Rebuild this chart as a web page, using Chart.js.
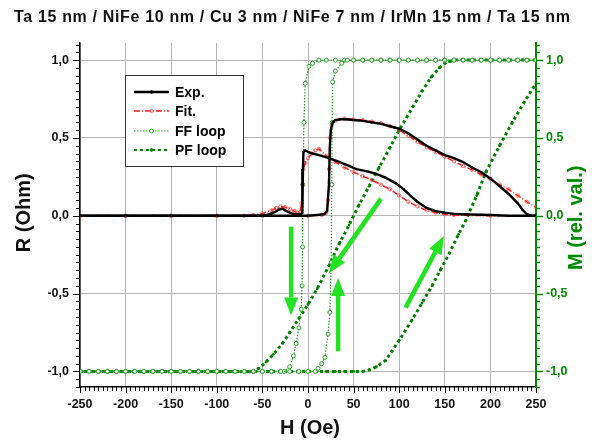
<!DOCTYPE html>
<html><head><meta charset="utf-8">
<script src="https://cdn.jsdelivr.net/npm/chart.js@4/dist/chart.umd.min.js"></script>
<style>html,body{margin:0;padding:0;background:#fff;overflow:hidden}</style>
</head><body>
<canvas id="c" width="601" height="441" style="display:block;width:601px;height:441px"></canvas>
<script>
// ---------------- DATA ----------------
const titleText = "Ta 15 nm / NiFe 10 nm / Cu 3 nm / NiFe 7 nm / IrMn 15 nm / Ta 15 nm";
const xTitle = "H (Oe)";
const yTitle = "R (Ohm)";
const y2Title = "M (rel. val.)";
const legendLabels = ["Exp.", "Fit.", "FF loop", "PF loop"];

// Exp. (measured R), branch with high peak (field increasing)
const expUpH = [-250,-220,-190,-160,-130,-100,-70,-50,-30,-10,0,10,18,21,23,24,25,27,30,35,40,50,60,70,80,90,100,110,120,130,140,150,160,170,180,190,200,210,220,230,235,240,245,250];
const expUpR = [0,0,0,0,0,0,0,0,0,0,0,0.005,0.01,0.03,0.2,0.45,0.55,0.6,0.615,0.62,0.62,0.615,0.61,0.6,0.59,0.575,0.56,0.53,0.49,0.45,0.42,0.39,0.37,0.345,0.31,0.28,0.24,0.19,0.14,0.08,0.04,0.01,0,0];
// Exp. branch with low peak (field decreasing)
const expDnH = [250,220,200,170,160,150,140,130,120,114,105,96,85,74,65,53,45,35,23,15,5,0,-3,-5,-5.5,-6,-6.5,-8,-10,-15,-20,-25,-28,-32,-36,-40,-45,-50,-80,-110,-140,-170,-200,-230,-250];
const expDnR = [0,0,0.005,0.01,0.012,0.02,0.03,0.05,0.09,0.12,0.17,0.21,0.245,0.27,0.285,0.3,0.32,0.345,0.37,0.385,0.4,0.41,0.42,0.41,0.3,0.1,0.02,0.01,0.01,0.01,0.02,0.035,0.045,0.04,0.025,0.015,0.005,0,0,0,0,0,0,0,0];

// Fit. (model R)
const fitUpH = [-250,-200,-150,-100,-50,0,15,20,22,23,24,26,30,40,50,60,70,80,90,100,110,120,130,140,150,160,170,180,190,200,210,220,230,240,250];
const fitUpR = [0,0,0,0,0,0,0.005,0.02,0.1,0.3,0.5,0.58,0.61,0.625,0.62,0.615,0.605,0.595,0.575,0.55,0.515,0.475,0.44,0.41,0.38,0.35,0.32,0.295,0.265,0.235,0.2,0.17,0.13,0.09,0.055];
const fitDnH = [250,200,160,150,140,130,120,110,100,90,80,70,60,50,40,30,20,12,8,4,0,-3,-5,-6,-7,-9,-12,-15,-20,-25,-30,-35,-40,-50,-60,-70,-100,-150,-200,-250];
const fitDnR = [0,0,0.005,0.01,0.02,0.035,0.06,0.09,0.13,0.17,0.2,0.23,0.255,0.28,0.31,0.345,0.385,0.43,0.42,0.4,0.37,0.34,0.3,0.2,0.08,0.02,0.02,0.03,0.045,0.055,0.06,0.05,0.035,0.015,0.005,0,0,0,0,0];

// FF loop (magnetization, relative)
const ffAscH = [-250,-240,-230,-220,-210,-200,-190,-180,-170,-160,-150,-140,-130,-120,-110,-100,-90,-80,-70,-60,-50,-40,-30,-20,-10,0,8,11,15,18.6,22,24,25.5,26,26.5,27,30,37,43,50,60,70,80,90,100,110,120,130,140,150,160,170,180,190,200,210,220,230,240,250];
const ffAscM = [-1,-1,-1,-1,-1,-1,-1,-1,-1,-1,-1,-1,-1,-1,-1,-1,-1,-1,-1,-1,-1,-1,-1,-1,-1,-1,-1,-0.98,-0.95,-0.91,-0.76,-0.62,-0.3,0.2,0.6,0.86,0.93,0.98,1,1,1,1,1,1,1,1,1,1,1,1,1,1,1,1,1,1,1,1,1,1];
const ffDscH = [250,240,230,220,210,200,190,180,170,160,150,140,130,120,110,100,90,80,70,60,50,40,30,20,12,5,1,-3,-4.5,-5.5,-6,-6.5,-7.5,-10,-13,-16,-20,-26,-30,-40,-50,-60,-70,-80,-90,-100,-110,-120,-130,-140,-150,-160,-170,-180,-190,-200,-210,-220,-230,-240,-250];
const ffDscM = [1,1,1,1,1,1,1,1,1,1,1,1,1,1,1,1,1,1,1,1,1,1,1,1,1,0.98,0.96,0.85,0.6,0.2,-0.2,-0.45,-0.6,-0.72,-0.82,-0.9,-0.97,-1,-1,-1,-1,-1,-1,-1,-1,-1,-1,-1,-1,-1,-1,-1,-1,-1,-1,-1,-1,-1,-1,-1,-1];

// PF loop (magnetization, relative)
const pfDscH = [250,240,230,220,210,200,190,180,170,160,155,150,144,135,125,115,100,90,78,67,56,45,35,23,10,0,-10,-20,-28,-38,-46,-54,-60,-70,-80,-90,-100,-110,-120,-130,-140,-150,-160,-170,-180,-190,-200,-210,-220,-230,-240,-250];
const pfDscM = [1,1,1,1,1,1,1,1,1,1,0.99,0.98,0.95,0.89,0.8,0.7,0.55,0.44,0.31,0.19,0.07,-0.06,-0.17,-0.32,-0.47,-0.57,-0.66,-0.75,-0.82,-0.89,-0.94,-0.98,-1,-1,-1,-1,-1,-1,-1,-1,-1,-1,-1,-1,-1,-1,-1,-1,-1,-1,-1,-1];
const pfAscH = [-250,-240,-230,-220,-210,-200,-190,-180,-170,-160,-150,-140,-130,-120,-110,-100,-90,-80,-70,-60,-50,-40,-30,-20,-10,0,10,20,30,40,50,60,67,75,85,92,100,114,125,136,145,155,165,173,185,195,210,224,237,250];
const pfAscM = [-1,-1,-1,-1,-1,-1,-1,-1,-1,-1,-1,-1,-1,-1,-1,-1,-1,-1,-1,-1,-1,-1,-1,-1,-1,-1,-1,-1,-1,-1,-1,-1,-0.99,-0.97,-0.93,-0.87,-0.8,-0.67,-0.56,-0.45,-0.35,-0.24,-0.12,-0.03,0.13,0.28,0.45,0.6,0.73,0.85];

// Annotation arrows (data coordinates: H, value)
const arrowFromH = [-18.5, 80, 33, 107];
const arrowFromY = [-0.07, 0.11, -0.87, -0.59];
const arrowToH   = [-18.5, 23, 33, 149];
const arrowToY   = [-0.64, -0.37, -0.40, -0.13];

// Axis settings
const xMin = -250, xMax = 250, xStep = 50, xMinor = 5;
const yMin = -1.1, yMax = 1.11, yStep = 0.5, yMinor = 0.05;

// ---------------- HELPERS ----------------
const pts = (hs, vs) => hs.map((h, i) => ({x: h, y: vs[i]}));
const fmt = v => (Math.round(v * 10) / 10).toFixed(1).replace('.', ',');
const FONT = "'Liberation Sans', Arial, sans-serif";
const GREEN_AX = 'rgb(0,140,0)';
const FF_COL = 'rgb(40,160,40)';
const PF_COL = 'rgb(0,128,0)';
const ARROW_COL = 'rgb(34,226,34)';

const styles = {
  exp: {borderColor:'#000', borderWidth:2.4, pointRadius:1.3, pointStyle:'rect', pointBackgroundColor:'#000', pointBorderColor:'#000', pointBorderWidth:0},
  fit: {borderColor:'rgba(255,0,0,0.9)', borderWidth:1.5, borderDash:[6,2,1,2], pointRadius:1.7, pointStyle:'circle', pointBackgroundColor:'rgba(255,255,255,0)', pointBorderColor:'rgba(255,70,70,0.75)', pointBorderWidth:1},
  ff: {borderColor:FF_COL, borderWidth:1.2, borderDash:[1.5,1.5], pointRadius:2, pointStyle:'circle', pointBackgroundColor:'#fff', pointBorderColor:FF_COL, pointBorderWidth:1},
  pf: {borderColor:PF_COL, borderWidth:3, borderDash:[3,3], pointRadius:1.4, pointStyle:'circle', pointBackgroundColor:PF_COL, pointBorderColor:PF_COL, pointBorderWidth:0}
};

const datasets = [
  Object.assign({label:'Exp.', data:pts(expUpH, expUpR), yAxisID:'y', order:1}, styles.exp),
  Object.assign({label:'Exp. ', data:pts(expDnH, expDnR), yAxisID:'y', order:1}, styles.exp),
  Object.assign({label:'Fit.', data:pts(fitUpH, fitUpR), yAxisID:'y', order:2}, styles.fit),
  Object.assign({label:'Fit. ', data:pts(fitDnH, fitDnR), yAxisID:'y', order:2}, styles.fit),
  Object.assign({label:'FF loop', data:pts(ffAscH, ffAscM), yAxisID:'y2', order:3}, styles.ff),
  Object.assign({label:'FF loop ', data:pts(ffDscH, ffDscM), yAxisID:'y2', order:3}, styles.ff),
  Object.assign({label:'PF loop', data:pts(pfAscH, pfAscM), yAxisID:'y2', order:4}, styles.pf),
  Object.assign({label:'PF loop ', data:pts(pfDscH, pfDscM), yAxisID:'y2', order:4}, styles.pf)
];
datasets.forEach(d => { d.showLine = true; d.fill = false; d.tension = 0; });

// ---------------- PLUGIN: decorations ----------------
const deco = {
  id: 'deco',
  beforeDatasetsDraw(chart) {
    const ctx = chart.ctx, xs = chart.scales.x, ys = chart.scales.y, a = chart.chartArea;
    ctx.save();
    ctx.strokeStyle = '#000'; ctx.lineWidth = 1;
    const nx = Math.round((xMax - xMin) / xMinor);
    for (let i = 0; i <= nx; i++) {
      const v = xMin + i * xMinor;
      const px = Math.round(xs.getPixelForValue(v)) + 0.5;
      const major = Math.abs(v / xStep - Math.round(v / xStep)) < 1e-6;
      ctx.beginPath(); ctx.moveTo(px, a.bottom); ctx.lineTo(px, a.bottom + (major ? 6 : 4)); ctx.stroke();
    }
    const first = Math.ceil(yMin / yMinor - 1e-6), last = Math.floor(yMax / yMinor + 1e-6);
    for (let k = first; k <= last; k++) {
      const v = k * yMinor;
      const py = Math.round(ys.getPixelForValue(v)) + 0.5;
      const major = Math.abs(v / yStep - Math.round(v / yStep)) < 1e-6;
      ctx.strokeStyle = '#000';
      ctx.beginPath(); ctx.moveTo(a.left, py); ctx.lineTo(a.left - (major ? 7 : 4), py); ctx.stroke();
      ctx.strokeStyle = GREEN_AX; ctx.lineWidth = 1.5;
      ctx.beginPath(); ctx.moveTo(a.right, py); ctx.lineTo(a.right + (major ? 7 : 4), py); ctx.stroke();
      ctx.lineWidth = 1;
    }
    ctx.restore();
  },
  afterDraw(chart) {
    const ctx = chart.ctx, xs = chart.scales.x, ys = chart.scales.y, a = chart.chartArea;
    ctx.save();
    // arrows
    for (let i = 0; i < arrowFromH.length; i++) {
      const x1 = xs.getPixelForValue(arrowFromH[i]), y1 = ys.getPixelForValue(arrowFromY[i]);
      const x2 = xs.getPixelForValue(arrowToH[i]), y2 = ys.getPixelForValue(arrowToY[i]);
      const ang = Math.atan2(y2 - y1, x2 - x1), hl = 18, hw = 7;
      const bx = x2 - hl * Math.cos(ang), by = y2 - hl * Math.sin(ang);
      ctx.strokeStyle = ARROW_COL; ctx.fillStyle = ARROW_COL; ctx.lineWidth = 4.5; ctx.lineCap = 'butt';
      ctx.beginPath(); ctx.moveTo(x1, y1); ctx.lineTo(bx, by); ctx.stroke();
      ctx.beginPath();
      ctx.moveTo(x2, y2);
      ctx.lineTo(bx + hw * Math.sin(ang), by - hw * Math.cos(ang));
      ctx.lineTo(bx - hw * Math.sin(ang), by + hw * Math.cos(ang));
      ctx.closePath(); ctx.fill();
    }
    // title, stretched to the reference width
    ctx.fillStyle = '#111';
    ctx.font = `bold 16px ${FONT}`;
    ctx.textAlign = 'left'; ctx.textBaseline = 'middle';
    const tw = ctx.measureText(titleText).width;
    const targetW = 556;
    const ls = Math.max(0, (targetW - tw) / (titleText.length - 1));
    if ('letterSpacing' in ctx) {
      ctx.letterSpacing = ls.toFixed(2) + 'px';
      ctx.fillText(titleText, 14, 18);
      ctx.letterSpacing = '0px';
    } else {
      ctx.textAlign = 'center';
      ctx.fillText(titleText, 292, 18);
    }
    // axis titles
    ctx.textAlign = 'center';
    ctx.font = `bold 20px ${FONT}`;
    ctx.fillStyle = '#111';
    ctx.fillText(xTitle, (a.left + a.right) / 2 + 2, 428);
    ctx.save(); ctx.translate(24, ys.getPixelForValue(0) - 3); ctx.rotate(-Math.PI / 2);
    ctx.fillText(yTitle, 0, 0); ctx.restore();
    ctx.fillStyle = GREEN_AX;
    ctx.save(); ctx.translate(576, ys.getPixelForValue(0) + 2); ctx.rotate(-Math.PI / 2);
    ctx.fillText(y2Title, 0, 0); ctx.restore();
    // legend
    const L = {x:125, y:75, w:118, h:91};
    ctx.fillStyle = '#fff'; ctx.fillRect(L.x, L.y, L.w, L.h);
    ctx.strokeStyle = '#333'; ctx.lineWidth = 1;
    ctx.strokeRect(L.x + 0.5, L.y + 0.5, L.w, L.h);
    const rows = [92, 111, 131, 150];
    const keys = ['exp', 'fit', 'ff', 'pf'];
    rows.forEach((ry, i) => {
      const s = styles[keys[i]];
      ctx.save();
      ctx.strokeStyle = s.borderColor; ctx.lineWidth = keys[i] === 'pf' ? 2 : s.borderWidth;
      ctx.setLineDash(s.borderDash || []);
      ctx.beginPath(); ctx.moveTo(134, ry); ctx.lineTo(169, ry); ctx.stroke();
      ctx.setLineDash([]);
      ctx.beginPath(); ctx.arc(151.5, ry, s.pointRadius, 0, Math.PI * 2);
      ctx.fillStyle = s.pointBackgroundColor; ctx.fill();
      ctx.strokeStyle = s.pointBorderColor; ctx.lineWidth = 1; ctx.stroke();
      ctx.restore();
      ctx.fillStyle = '#000'; ctx.font = `bold 14px ${FONT}`;
      ctx.textAlign = 'left'; ctx.textBaseline = 'middle';
      ctx.fillText(legendLabels[i], 175, ry + 1);
    });
    ctx.restore();
  }
};

// ---------------- CHART ----------------
new Chart(document.getElementById('c'), {
  type: 'scatter',
  data: {datasets},
  options: {
    responsive: false, animation: false, devicePixelRatio: 1,
    layout: {padding: {top: 43, left: 0, right: 0, bottom: 0}},
    plugins: {legend: {display: false}, tooltip: {enabled: false}, title: {display: false}},
    scales: {
      x: {
        type: 'linear', position: 'bottom', min: xMin, max: xMax,
        afterFit: s => { s.height = 54; },
        ticks: {stepSize: xStep, color: '#111', font: {family: FONT, size: 12.5, weight: 'bold'}, padding: 10, maxRotation: 0,
                callback: v => String(v)},
        grid: {color: '#b5b5b5', lineWidth: 1, drawTicks: false},
        border: {color: '#000', width: 1.5}
      },
      y: {
        type: 'linear', position: 'left', min: yMin, max: yMax,
        afterFit: s => { s.width = 80; },
        ticks: {stepSize: yStep, includeBounds: false, color: '#111', font: {family: FONT, size: 12.5, weight: 'bold'}, padding: 11, callback: v => fmt(v)},
        grid: {color: '#b5b5b5', lineWidth: 1, drawTicks: false},
        border: {color: '#000', width: 1.5}
      },
      y2: {
        type: 'linear', position: 'right', min: yMin, max: yMax,
        afterFit: s => { s.width = 65; },
        ticks: {stepSize: yStep, includeBounds: false, color: GREEN_AX, font: {family: FONT, size: 12.5, weight: 'bold'}, padding: 10, callback: v => fmt(v)},
        grid: {drawOnChartArea: false, drawTicks: false},
        border: {color: GREEN_AX, width: 2}
      }
    }
  },
  plugins: [deco]
});
</script>
</body></html>
